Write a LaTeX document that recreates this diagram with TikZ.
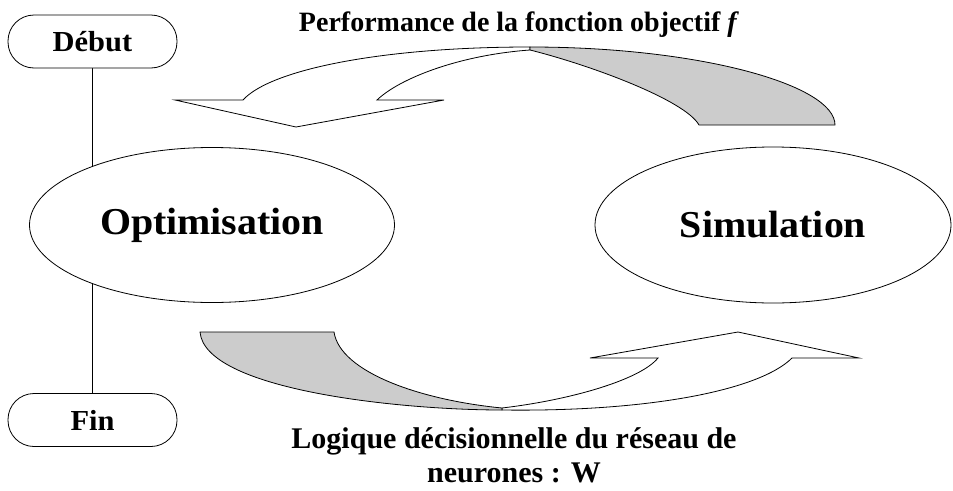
\documentclass[tikz,border=0pt]{standalone}
\usepackage{fontspec}
\setmainfont{Liberation Serif}
\newfontfamily\widefont{Liberation Serif Bold}[FakeStretch=1.05]
\usetikzlibrary{shapes.geometric,backgrounds}

\tikzset{
  etape/.style={ellipse, draw, fill=white, line width=0.8pt, inner sep=0pt,
    font=\widefont\fontsize{38}{44}\selectfont},
  borne/.style={draw, fill=white, line width=0.8pt, rounded corners=26pt,
    minimum width=169pt, minimum height=53pt, inner sep=0pt,
    font=\widefont\fontsize{29}{33}\selectfont},
  fleche/.style={draw, line width=0.8pt, line join=miter}
}

\begin{document}
\begin{tikzpicture}[x=1pt,y=-1pt]
\useasboundingbox (0,0) rectangle (953,490);

\node[borne] (debut) at (92.5,41.5) {Début};
\node[borne] (fin) at (92.5,420) {Fin};
\node[etape, minimum width=365pt, minimum height=155pt] (opt) at (212,225) {Optimisation};
\node[etape, minimum width=356pt, minimum height=156pt] (sim) at (773,225) {Simulation};

\begin{scope}[on background layer]
\draw[line width=0.8pt] (debut.south) -- (fin.north);
\end{scope}

% fleche du haut : simulation vers optimisation
\filldraw[fleche, fill=white] (530,47) .. controls (380,47) and (270,70) .. (243,100)
  -- (175,100) -- (296,127) -- (444,100) -- (377,100)
  .. controls (400,78) and (460,55) .. (530,50) -- cycle;
\filldraw[fleche, fill=black!20] (530,47) .. controls (700,47) and (835,85) .. (835,125)
  -- (699,125) .. controls (685,100) and (590,65) .. (530,50) -- cycle;

% fleche du bas : optimisation vers simulation
\filldraw[fleche, fill=white] (502,410) .. controls (650,412) and (760,390) .. (792,358)
  -- (859,358) -- (738,332) -- (590,358) -- (658,358)
  .. controls (640,380) and (570,400) .. (502,408) -- cycle;
\filldraw[fleche, fill=black!20] (200,332) -- (334,332)
  .. controls (340,372) and (420,400) .. (502,408)
  -- (502,410) .. controls (400,410) and (205,390) .. (200,332) -- cycle;

\node[font=\bfseries\fontsize{28}{32}\selectfont, anchor=base] (perf) at (519,31)
  {Performance de la fonction objectif \textit{f}};
\node[font=\bfseries\fontsize{30}{34}\selectfont, align=center, anchor=north, inner sep=0pt] (logique) at (514,427)
  {Logique décisionnelle du réseau de\\neurones : W};
\end{tikzpicture}
\end{document}
